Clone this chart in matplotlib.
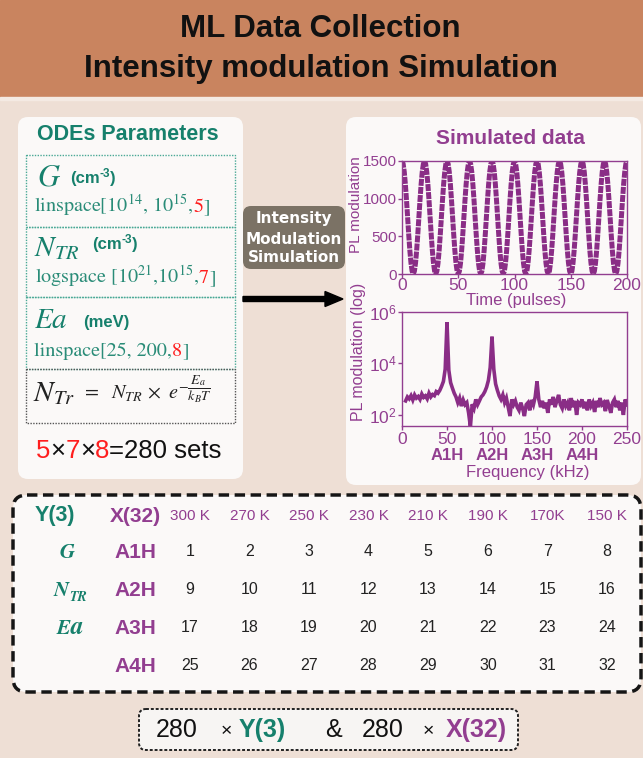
import numpy as np
import matplotlib
matplotlib.use('Agg')
import matplotlib.pyplot as plt
from matplotlib.patches import FancyBboxPatch, Rectangle, FancyArrow
from matplotlib.ticker import FixedLocator, NullLocator, FixedFormatter

# ---------------- data ----------------
# top panel: PL modulation vs time (pulses), one value per pulse
pl_time_values = [
    1500, 1463, 1357, 1191, 982, 750, 518, 309, 143, 37, 0, 37, 143, 309, 518, 750, 982, 1191, 1357, 1463,
    1500, 1463, 1357, 1191, 982, 750, 518, 309, 143, 37, 0, 37, 143, 309, 518, 750, 982, 1191, 1357, 1463,
    1500, 1463, 1357, 1191, 982, 750, 518, 309, 143, 37, 0, 37, 143, 309, 518, 750, 982, 1191, 1357, 1463,
    1500, 1463, 1357, 1191, 982, 750, 518, 309, 143, 37, 0, 37, 143, 309, 518, 750, 982, 1191, 1357, 1463,
    1500, 1463, 1357, 1191, 982, 750, 518, 309, 143, 37, 0, 37, 143, 309, 518, 750, 982, 1191, 1357, 1463,
    1500, 1463, 1357, 1191, 982, 750, 518, 309, 143, 37, 0, 37, 143, 309, 518, 750, 982, 1191, 1357, 1463,
    1500, 1463, 1357, 1191, 982, 750, 518, 309, 143, 37, 0, 37, 143, 309, 518, 750, 982, 1191, 1357, 1463,
    1500, 1463, 1357, 1191, 982, 750, 518, 309, 143, 37, 0, 37, 143, 309, 518, 750, 982, 1191, 1357, 1463,
    1500, 1463, 1357, 1191, 982, 750, 518, 309, 143, 37, 0, 37, 143, 309, 518, 750, 982, 1191, 1357, 1463,
    1500, 1463, 1357, 1191, 982, 750, 518, 309, 143, 37, 0, 37, 143, 309, 518, 750, 982, 1191, 1357, 1463,
    1500,
]
time_start, time_step = 0, 1

# bottom panel: spectrum (kHz), from 4 kHz every 2 kHz
spec_values = [
    350, 500, 420, 560, 380, 600, 450, 520, 400, 650, 480, 550, 420, 700, 500, 620, 560, 800, 700,
    900, 1300, 2000, 6000, 400000, 5500, 1800, 1100, 700, 500, 300, 450, 220, 380, 250, 300, 120, 35,
    260, 180, 400, 250, 350, 500, 600, 800, 1200, 2200, 7000, 110000, 6000, 1600, 900, 550, 400, 600,
    300, 450, 200, 90, 400, 250, 350, 200, 150, 300, 180, 90, 250, 300, 150, 380, 250, 500, 2000, 400,
    200, 350, 180, 300, 120, 400, 250, 500, 200, 350, 600, 250, 180, 400, 220, 300, 150, 450, 200, 350,
    100, 300, 250, 400, 180, 320, 150, 400, 220, 300, 130, 350, 200, 450, 250, 300, 140, 380, 220, 120,
    300, 400, 200, 350, 150, 300, 100, 400, 250,
]
freq_start, freq_step = 4, 2

harmonic_labels = ['A1H', 'A2H', 'A3H', 'A4H']
harmonic_freqs = [50, 100, 150, 200]

temperatures = ['300 K', '270 K', '250 K', '230 K', '210 K', '190 K', '170K', '150 K']
cell_numbers = [
    [1, 2, 3, 4, 5, 6, 7, 8],
    [9, 10, 11, 12, 13, 14, 15, 16],
    [17, 18, 19, 20, 21, 22, 23, 24],
    [25, 26, 27, 28, 29, 30, 31, 32],
]
n_G, n_NTR, n_Ea = 5, 7, 8
n_sets = 280

# ---------------- style ----------------
W, H = 643, 758
plt.rcParams['font.family'] = ['Liberation Sans', 'DejaVu Sans']
plt.rcParams['mathtext.fontset'] = 'stix'

TEAL = '#16806C'
TEAL2 = '#2A8C78'
PURPLE = '#923E90'
CURVE = '#8A2D86'
RED = '#FF1E1E'
BANNER = '#C9845F'
BG = '#EEDFD5'
PANEL = '#FBF9F8'

fig = plt.figure(figsize=(W / 100, H / 100), dpi=100)
bg = fig.add_axes([0, 0, 1, 1])
bg.set_xlim(0, W)
bg.set_ylim(H, 0)
bg.axis('off')
renderer = fig.canvas.get_renderer()

bg.add_patch(Rectangle((0, 0), W, H, color=BG, zorder=0))
bg.add_patch(Rectangle((0, 0), W, 97, color=BANNER, zorder=0.5))
bg.add_patch(Rectangle((0, 97), W, 3, color='#F4EAE3', zorder=0.5))


def rbox(x0, y0, x1, y1, r, fc, ec='none', lw=0, ls='-', z=1):
    p = FancyBboxPatch((x0, y0), x1 - x0, y1 - y0,
                       boxstyle=f'round,pad=0,rounding_size={r}',
                       fc=fc, ec=ec, lw=lw, ls=ls, zorder=z)
    bg.add_patch(p)


def rich(x, y, parts, **common):
    for txt, kw in parts:
        kw = dict(kw)
        dx = kw.pop('dx', 0)
        dy = kw.pop('dy', 0)
        x += dx
        opts = {**common, **kw}
        t = bg.text(x, y + dy, txt, ha='left', va='baseline', zorder=5, **opts)
        bb = t.get_window_extent(renderer=renderer)
        x += bb.width
    return x


# ---------------- title ----------------
bg.text(W / 2 - 1, 37, 'ML Data Collection', ha='center', va='baseline', fontsize=22.5,
        fontweight='bold', color='#111111')
bg.text(W / 2 - 1, 77, 'Intensity modulation Simulation', ha='center', va='baseline', fontsize=22.5,
        fontweight='bold', color='#111111')

# ---------------- left panel ----------------
rbox(18, 117, 243, 479, 10, PANEL)
bg.text(128, 135, 'ODEs Parameters', ha='center', va='center', fontsize=15.5,
        fontweight='bold', color=TEAL, zorder=5)
for (y0, y1) in [(155, 227), (227, 297), (297, 369)]:
    bg.add_patch(Rectangle((26, y0), 209, y1 - y0, fc='none', ec='#4AA996', lw=1,
                           ls=(0, (1, 1)), zorder=3))
bg.add_patch(Rectangle((26, 369), 209, 54, fc='none', ec='#555555', lw=1,
                       ls=(0, (1, 1)), zorder=3))

serif = dict(family='STIXGeneral', color=TEAL2, fontsize=14.5)
unit = dict(fontweight='bold', color=TEAL, fontsize=12)

# G
bg.text(37, 186, '$G$', fontsize=22, color=TEAL, va='baseline', ha='left', zorder=5)
rich(70, 183, [('(cm', {}), ('-3', dict(fontsize=8.5, dy=-6)), (')', {})], **unit)
rich(34, 212, [('linspace[$10^{14}$, $10^{15}$,', {}), (str(n_G), dict(color=RED)), (']', {})], **serif)

# N_TR
bg.text(34, 256, '$N_{TR}$', fontsize=21, color=TEAL, va='baseline', ha='left', zorder=5)
rich(92, 249, [('(cm', {}), ('-3', dict(fontsize=8.5, dy=-6)), (')', {})], **unit)
rich(35, 283, [('logspace [$10^{21}$,$10^{15}$,', {}), (str(n_NTR), dict(color=RED)), (']', {})], **serif)

# Ea
bg.text(34, 328, '$Ea$', fontsize=21, color=TEAL, va='baseline', ha='left', zorder=5)
rich(83, 327, [('(meV)', {})], **unit)
rich(34, 356, [('linspace[25, 200,', {}), (str(n_Ea), dict(color=RED)), (']', {})], **serif)

# formula
bg.text(33, 401, '$N_{Tr}$', fontsize=21, color='#222222', va='baseline', ha='left', zorder=5)
bg.text(82, 399, r'$=\ \ N_{TR}\,\times\ e^{-\dfrac{E_a}{k_BT}}$', fontsize=14.5,
        color='#222222', va='baseline', ha='left', zorder=5)

# 5x7x8 = 280 sets
rich(36, 458, [(str(n_G), dict(color=RED)), ('×', {}), (str(n_NTR), dict(color=RED)), ('×', {}),
               (str(n_Ea), dict(color=RED)), (f'={n_sets} sets', {})],
     fontsize=18.5, color='#111111')

# ---------------- badge + arrow ----------------
rbox(243, 206, 345, 269, 8, '#7B7265', z=2)
for yy, s in zip([219, 239, 258], ['Intensity', 'Modulation', 'Simulation']):
    bg.text(294, yy, s, ha='center', va='center', fontsize=11, fontweight='bold',
            family='DejaVu Sans', color='white', zorder=5)
bg.add_patch(FancyArrow(243, 299, 100, 0, width=5, head_width=15, head_length=18,
                        length_includes_head=True, color='black', zorder=4))

# ---------------- right panel ----------------
rbox(346, 117, 641, 485, 10, PANEL)
bg.text(510, 139, 'Simulated data', ha='center', va='center', fontsize=15,
        fontweight='bold', color=PURPLE, zorder=5)


def style_axes(ax):
    ax.set_facecolor('none')
    for s in ax.spines.values():
        s.set_color(PURPLE)
        s.set_linewidth(1)
    ax.tick_params(colors=PURPLE, labelcolor=PURPLE, length=3, width=1, pad=1,
                   labelsize=12.5, direction='out')


ax1 = fig.add_axes([402 / W, 1 - 274 / H, 225 / W, 113 / H])
t_vals = time_start + time_step * np.arange(len(pl_time_values))
ax1.plot(t_vals, pl_time_values, color=CURVE, lw=3.6, ls=(0, (1.4, 0.22)))
ax1.set_xlim(0, 200)
ax1.set_ylim(0, 1500)
ax1.xaxis.set_major_locator(FixedLocator([0, 50, 100, 150, 200]))
ax1.yaxis.set_major_locator(FixedLocator([0, 500, 1000, 1500]))
style_axes(ax1)
ax1.tick_params(axis='y', labelsize=11)
ax1.tick_params(axis='x', pad=0)
bg.text(356, 205, 'PL modulation', rotation=90, ha='center', va='center', fontsize=11,
        color=PURPLE, zorder=5)
bg.text(516, 300, 'Time (pulses)', ha='center', va='center', fontsize=12, color=PURPLE, zorder=5)

ax2 = fig.add_axes([402 / W, 1 - 426 / H, 225 / W, 114 / H])
f_vals = freq_start + freq_step * np.arange(len(spec_values))
ax2.plot(f_vals, spec_values, color=CURVE, lw=2.6, solid_joinstyle='miter')
ax2.set_yscale('log')
ax2.set_xlim(0, 250)
ax2.set_ylim(37, 1e6)
ax2.xaxis.set_major_locator(FixedLocator([0, 50, 100, 150, 200, 250]))
ax2.yaxis.set_major_locator(FixedLocator([1e2, 1e4, 1e6]))
ax2.yaxis.set_major_formatter(FixedFormatter([r'$\mathregular{10^2}$', r'$\mathregular{10^4}$',
                                              r'$\mathregular{10^6}$']))
ax2.yaxis.set_minor_locator(NullLocator())
style_axes(ax2)
ax2.tick_params(axis='y', labelsize=12.5)
for lab, fq in zip(harmonic_labels, harmonic_freqs):
    xp = 402 + fq * 225 / 250
    bg.text(xp, 455, lab, ha='center', va='center', fontsize=12, fontweight='bold',
            color=PURPLE, zorder=5)
bg.text(528, 472, 'Frequency (kHz)', ha='center', va='center', fontsize=12, color=PURPLE, zorder=5)
bg.text(358, 352, 'PL modulation (log)', rotation=90, ha='center', va='center', fontsize=11.5,
        color=PURPLE, zorder=5)

# ---------------- table ----------------
rbox(13, 495, 641, 692, 14, PANEL, ec='#151515', lw=2.5, ls=(0, (3, 1.6)), z=1)
bg.text(55, 516, 'Y(3)', ha='center', va='center', fontsize=15.5, fontweight='bold', color=TEAL, zorder=5)
bg.text(135, 516, 'X(32)', ha='center', va='center', fontsize=15, fontweight='bold', color=PURPLE, zorder=5)
col_x = [190, 249.5, 309, 368.5, 428, 488, 547.5, 607]
row_y = [552, 590, 628, 666]
for cx, tl in zip(col_x, temperatures):
    bg.text(cx, 516, tl, ha='center', va='center', fontsize=11, color=PURPLE, zorder=5)
for ry, lab in zip(row_y, harmonic_labels):
    bg.text(135, ry, lab, ha='center', va='center', fontsize=15, fontweight='bold',
            color=PURPLE, zorder=5)
for ry, row in zip(row_y, cell_numbers):
    for cx, v in zip(col_x, row):
        bg.text(cx, ry, str(v), ha='center', va='center', fontsize=11.5, color='#222222', zorder=5)
yparam = dict(family='STIXGeneral', style='italic', fontweight='bold', color=TEAL)
bg.text(67, 558, 'G', ha='center', va='baseline', fontsize=15, zorder=5, **yparam)
rich(54, 596, [('N', dict(fontsize=15)), ('TR', dict(fontsize=10, dy=5))], **yparam)
rich(57, 634, [('E', dict(fontsize=15)), ('a', dict(fontsize=18))], **yparam)

# ---------------- bottom summary ----------------
rbox(139, 709, 518, 750, 7, '#F7F5F3', ec='#222222', lw=1.4, ls=(0, (1.5, 1)), z=1)
ybs = 737
bg.text(177, ybs, str(n_sets), ha='center', va='baseline', fontsize=18, color='#111111', zorder=5)
bg.text(226, ybs - 1, '×', ha='center', va='baseline', fontsize=14, color='#111111', zorder=5)
bg.text(262, ybs, 'Y(3)', ha='center', va='baseline', fontsize=18, fontweight='bold', color=TEAL, zorder=5)
bg.text(334, ybs, '&', ha='center', va='baseline', fontsize=18, color='#111111', zorder=5)
bg.text(383, ybs, str(n_sets), ha='center', va='baseline', fontsize=18, color='#111111', zorder=5)
bg.text(428, ybs - 1, '×', ha='center', va='baseline', fontsize=14, color='#111111', zorder=5)
bg.text(476, ybs, 'X(32)', ha='center', va='baseline', fontsize=18, fontweight='bold', color=PURPLE, zorder=5)

fig.savefig('out.png', dpi=100)
